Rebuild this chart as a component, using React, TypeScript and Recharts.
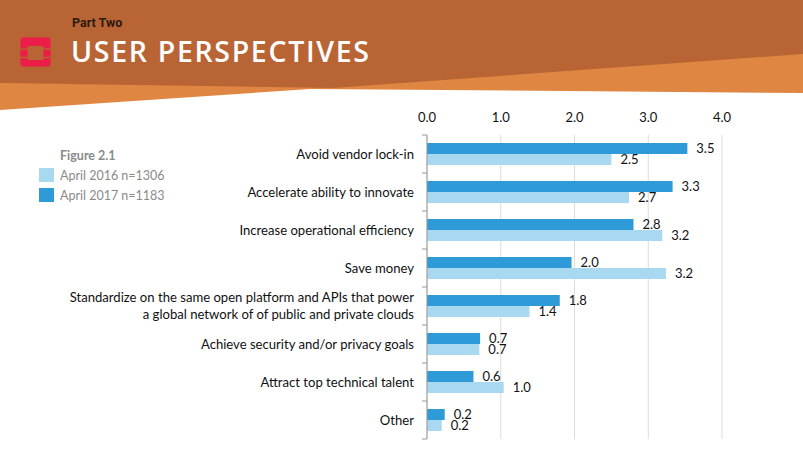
import React from 'react';
import { BarChart, Bar, XAxis, YAxis, CartesianGrid, Legend, LabelList } from 'recharts';

const categories = [
  'Avoid vendor lock-in',
  'Accelerate ability to innovate',
  'Increase operational efficiency',
  'Save money',
  'Standardize on the same open platform and APIs that power\na global network of of public and private clouds',
  'Achieve security and/or privacy goals',
  'Attract top technical talent',
  'Other',
];
const april2017 = [3.53, 3.33, 2.8, 1.96, 1.8, 0.72, 0.63, 0.24];
const april2016 = [2.5, 2.74, 3.19, 3.24, 1.39, 0.71, 1.04, 0.2];
const xTicks = [0, 1, 2, 3, 4];
const legendOrder = ['April 2016 n=1306', 'April 2017 n=1183'];

const data = categories.map((name, i) => ({
  name,
  y2017: april2017[i],
  y2016: april2016[i],
}));

const FONT = 'Lato, sans-serif';

const CategoryTick = (props: any) => {
  const { x, y, payload, index } = props;
  const lines: string[] = String(payload.value).split('\n');
  const half = payload.offset || 19;
  const axisX = x + 13;
  const lh = 17.5;
  const first = y - ((lines.length - 1) * lh) / 2;
  return (
    <g>
      <text textAnchor="end" fontFamily={FONT} fontSize={13.1} fill="#111">
        {lines.map((l, i) => (
          <tspan key={i} x={x} y={first + i * lh} dy="0.35em">
            {l}
          </tspan>
        ))}
      </text>
      <line x1={axisX - 5} x2={axisX} y1={y - half} y2={y - half} stroke="#999" />
      {index === categories.length - 1 && (
        <line x1={axisX - 5} x2={axisX} y1={y + half} y2={y + half} stroke="#999" />
      )}
    </g>
  );
};

const LegendBox = (props: any) => {
  const items = [...(props.payload || [])].sort(
    (a: any, b: any) => legendOrder.indexOf(a.value) - legendOrder.indexOf(b.value)
  );
  return (
    <div style={{ fontFamily: FONT, fontSize: 12.5, color: '#8a8a8a' }}>
      <div style={{ fontWeight: 700, marginLeft: 21, lineHeight: '19px' }}>Figure 2.1</div>
      {items.map((it: any) => (
        <div key={it.value} style={{ display: 'flex', alignItems: 'center', height: 20 }}>
          <span style={{ width: 15, height: 14, background: it.color, display: 'inline-block', marginRight: 6 }} />
          <span>{it.value}</span>
        </div>
      ))}
    </div>
  );
};

const Header = () => (
  <svg width={803} height={120} style={{ position: 'absolute', left: 0, top: 0 }}>
    <polygon points="0,0 803,0 803,93 310,89 0,110" fill="#e08643" />
    <polygon points="0,0 803,0 803,54 333,88 0,83" fill="#b96434" />
    <rect x={20.5} y={37.5} width={30} height={29} rx={3} fill="#ec1d48" />
    <rect x={27.5} y={46} width={16} height={14} fill="#b96434" />
    <rect x={20.5} y={48.3} width={7} height={1.4} fill="#b96434" />
    <rect x={20.5} y={56.8} width={7} height={1.4} fill="#b96434" />
    <rect x={43.5} y={48.3} width={7} height={1.4} fill="#b96434" />
    <rect x={43.5} y={56.8} width={7} height={1.4} fill="#b96434" />
    <text x={72} y={27} fontFamily="Roboto, sans-serif" fontWeight={700} fontSize={12.5} fill="#2a1a10">
      Part Two
    </text>
    <text
      x={71}
      y={62}
      fontFamily="'Open Sans', sans-serif"
      fontWeight={600}
      fontSize={28.5}
      textLength={298}
      lengthAdjust="spacing"
      fill="#fff"
    >
      USER PERSPECTIVES
    </text>
  </svg>
);

export default function App() {
  return (
    <div style={{ position: 'absolute', left: 0, top: 0, width: 803, height: 454, background: '#fff', overflow: 'hidden' }}>
      <Header />
      <div style={{ position: 'absolute', left: 0, top: 0 }}>
        <BarChart
          width={803}
          height={454}
          data={data}
          layout="vertical"
          margin={{ top: 105, right: 81, bottom: 15, left: 0 }}
          barSize={11}
          barGap={0}
        >
          <CartesianGrid horizontal={false} stroke="#dcdcdc" />
          <XAxis
            type="number"
            orientation="top"
            domain={[0, 4]}
            ticks={xTicks}
            tickFormatter={(v: number) => v.toFixed(1)}
            axisLine={false}
            tickLine={false}
            tickSize={0}
            tickMargin={13}
            height={30}
            tick={{ fontFamily: FONT, fontSize: 13, fill: '#111' }}
          />
          <YAxis
            type="category"
            dataKey="name"
            width={427}
            axisLine={{ stroke: '#999' }}
            tickLine={false}
            tickSize={0}
            tickMargin={13}
            interval={0}
            tick={<CategoryTick />}
          />
          <Legend
            layout="vertical"
            align="center"
            verticalAlign="middle"
            wrapperStyle={{ left: 39, top: 146, width: 200 }}
            content={<LegendBox />}
          />
          <Bar dataKey="y2017" name="April 2017 n=1183" fill="#2e9ad8" isAnimationActive={false}>
            <LabelList
              dataKey="y2017"
              position="right"
              offset={9}
              formatter={(v: any) => Number(v).toFixed(1)}
              style={{ fontFamily: FONT, fontSize: 13, fill: '#111' }}
            />
          </Bar>
          <Bar dataKey="y2016" name="April 2016 n=1306" fill="#a9d8f1" isAnimationActive={false}>
            <LabelList
              dataKey="y2016"
              position="right"
              offset={9}
              formatter={(v: any) => Number(v).toFixed(1)}
              style={{ fontFamily: FONT, fontSize: 13, fill: '#111' }}
            />
          </Bar>
        </BarChart>
      </div>
    </div>
  );
}
